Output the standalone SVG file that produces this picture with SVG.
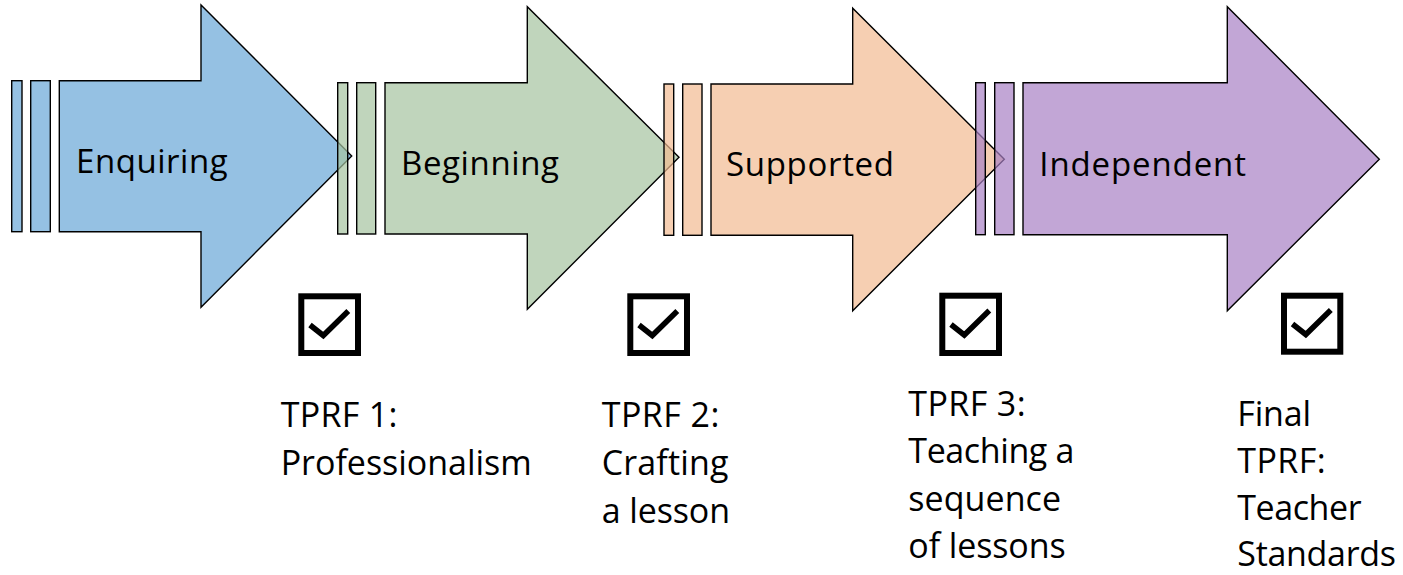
<svg xmlns="http://www.w3.org/2000/svg" width="1403" height="575" viewBox="0 0 1403 575">
<style>
.sh{stroke:#000;stroke-width:1.4;stroke-linejoin:miter}
.a1{fill:rgb(104,166,215);fill-opacity:0.7}
.a2{fill:rgb(165,195,159);fill-opacity:0.7}
.a3{fill:rgb(242,186,145);fill-opacity:0.7}
.a4{fill:rgb(168,128,196);fill-opacity:0.7}
.lab{font-family:"Open Sans","Noto Sans","Liberation Sans",sans-serif;font-size:33px;fill:#000}
.txt{font-family:"Open Sans","Noto Sans","Liberation Sans",sans-serif;font-size:34px;fill:#000}
.box{fill:none;stroke:#000;stroke-width:6}
.tick{fill:none;stroke:#000;stroke-width:5.5;stroke-linecap:butt;stroke-linejoin:miter}
</style>
<rect width="1403" height="575" fill="#fff"/>
<g id="arrow-enquiring">
<rect class="sh a1" x="11.7" y="80.7" width="10.3" height="151"/>
<rect class="sh a1" x="30.7" y="80.7" width="19.6" height="151"/>
<polygon class="sh a1" points="59.3,80.7 201,80.7 201,5 351.7,156 201,307.3 201,231.7 59.3,231.7"/>
<text class="lab" x="76" y="173.3" textLength="151.7">Enquiring</text>
</g>
<g id="arrow-beginning">
<rect class="sh a2" x="337.7" y="82.7" width="10" height="151.3"/>
<rect class="sh a2" x="356.7" y="82.7" width="19" height="151.3"/>
<polygon class="sh a2" points="385,82.7 527.3,82.7 527.3,6.7 679,157.3 527.3,309.3 527.3,234 385,234"/>
<text class="lab" x="401" y="174.5" textLength="158">Beginning</text>
</g>
<g id="arrow-supported">
<rect class="sh a3" x="664" y="84" width="9.7" height="151.3"/>
<rect class="sh a3" x="682.7" y="84" width="19.3" height="151.3"/>
<polygon class="sh a3" points="711,84 852.7,84 852.7,8.3 1004.3,159.3 852.7,310.7 852.7,235.3 711,235.3"/>
<text class="lab" x="726" y="176" textLength="168">Supported</text>
</g>
<g id="arrow-independent">
<rect class="sh a4" x="975.7" y="82.7" width="9.6" height="152"/>
<rect class="sh a4" x="994.7" y="82.7" width="19.3" height="152"/>
<polygon class="sh a4" points="1023,82.7 1227.3,82.7 1227.3,6.7 1379.3,159.3 1227.3,310.7 1227.3,234.7 1023,234.7"/>
<text class="lab" x="1039.3" y="175.7" textLength="206.7">Independent</text>
</g>
<g id="check-1">
<rect class="box" x="301.3" y="296.3" width="56.7" height="56.7"/>
<polyline class="tick" points="310,325 323.3,335.5 348.3,311"/>
</g>
<g id="check-2">
<rect class="box" x="630.3" y="296.3" width="56.7" height="56.7"/>
<polyline class="tick" points="639,325 652.3,335.5 677.3,311"/>
</g>
<g id="check-3">
<rect class="box" x="942.3" y="295.7" width="56.7" height="57.3"/>
<polyline class="tick" points="951,324.5 964.3,335 989.3,310.5"/>
</g>
<g id="check-4">
<rect class="box" x="1284" y="295.7" width="56.3" height="56"/>
<polyline class="tick" points="1292.5,324 1305.8,334.5 1330.8,310"/>
</g>
<g id="label-1">
<text class="txt" x="280.7" y="426.7" textLength="116.7">TPRF 1:</text>
<text class="txt" x="280.7" y="475" textLength="251">Professionalism</text>
</g>
<g id="label-2">
<text class="txt" x="601.7" y="426.7" textLength="117.7">TPRF 2:</text>
<text class="txt" x="601.7" y="475" textLength="126.7">Crafting</text>
<text class="txt" x="601.7" y="522.7" textLength="128.3">a lesson</text>
</g>
<g id="label-3">
<text class="txt" x="908.3" y="416" textLength="117.3">TPRF 3:</text>
<text class="txt" x="908.3" y="463.3" textLength="166">Teaching a</text>
<text class="txt" x="908.3" y="511" textLength="152.7">sequence</text>
<text class="txt" x="908.3" y="558.3" textLength="157.3">of lessons</text>
</g>
<g id="label-4">
<text class="txt" x="1237.3" y="425.5" textLength="73.7">Final</text>
<text class="txt" x="1237.3" y="472.5" textLength="88.3">TPRF:</text>
<text class="txt" x="1237.3" y="519.5" textLength="124.3">Teacher</text>
<text class="txt" x="1237.3" y="566" textLength="158.7">Standards</text>
</g>
</svg>
